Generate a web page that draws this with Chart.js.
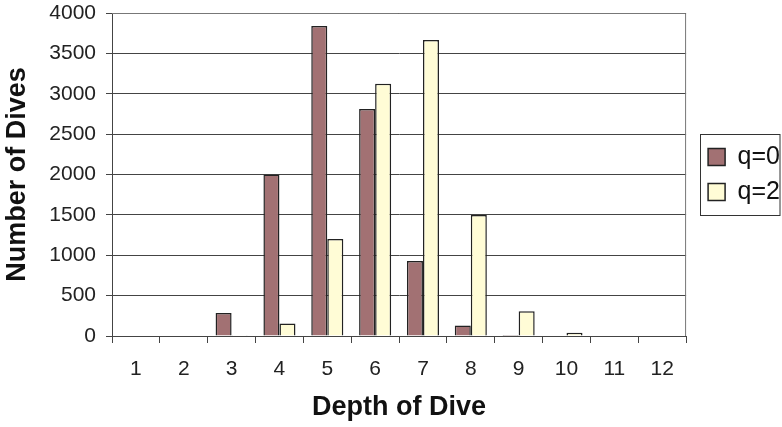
<!DOCTYPE html>
<html>
<head>
<meta charset="utf-8">
<script src="https://cdn.jsdelivr.net/npm/chart.js"></script>
<style>
  body { margin: 0; background: #fff; }
  #wrap { width: 782px; height: 427px; }
</style>
</head>
<body>
<div id="wrap"><canvas id="myChart" width="782" height="427"></canvas></div>
<script>
const depths = ["1", "2", "3", "4", "5", "6", "7", "8", "9", "10", "11", "12"];
const diveQ0 = [0, 0, 285, 2000, 3840, 2810, 930, 130, 12, 0, 0, 0];
const diveQ2 = [0, 0, 10, 155, 1200, 3125, 3665, 1500, 305, 40, 5, 0];

const fnt = "Liberation Sans, Arial, sans-serif";

// frame round the plot and the legend
const frames = {
  id: "frames",
  afterLayout(chart) {
    // legend sits a bit further right in the original
    chart.legend.left += 12;
    chart.legend.right += 12;
  },
  afterDraw(chart) {
    const c = chart.ctx;
    const a = chart.chartArea;
    c.save();
    c.strokeStyle = "#777";
    c.lineWidth = 1;
    c.beginPath();
    c.moveTo(a.left, a.top + 0.5);
    c.lineTo(a.right - 0.5, a.top + 0.5);
    c.lineTo(a.right - 0.5, a.bottom);
    c.stroke();
    const hb = chart.legend.legendHitBoxes;
    if (hb && hb.length) {
      const first = hb[0];
      const last = hb[hb.length - 1];
      const x = Math.round(first.left) - 7.5;
      const y = Math.round(first.top) - 10.5;
      const y2 = Math.round(last.top + last.height) + 10.5;
      c.strokeStyle = "#333";
      c.strokeRect(x, y, 780 - x, y2 - y);
    }
    c.restore();
  }
};

const ctx = document.getElementById("myChart");
const myChart = new Chart(ctx, {
  type: "bar",
  data: {
    labels: depths,
    datasets: [
      {
        label: "q=0",
        data: diveQ0,
        backgroundColor: "#A27173",
        borderColor: "#222",
        borderWidth: 1.5,
        borderSkipped: "bottom",
      },
      {
        label: "q=2",
        data: diveQ2,
        backgroundColor: "#FFFCD6",
        borderColor: "#222",
        borderWidth: 1.5,
        borderSkipped: "bottom",
      },
    ],
  },
  options: {
    responsive: false,
    animation: false,
    layout: { padding: { top: 13, right: 4, left: 0, bottom: 0 } },
    datasets: {
      bar: { categoryPercentage: 0.67, barPercentage: 1.0 },
    },
    scales: {
      x: {
        afterFit: (scale) => { scale.height = 91; },
        grid: {
          drawOnChartArea: false,
          drawTicks: true,
          tickLength: 7,
          color: "#444",
        },
        border: { color: "#444", width: 1 },
        ticks: {
          color: "#222",
          padding: 14,
          font: { family: fnt, size: 21 },
        },
        title: {
          display: true,
          text: "Depth of Dive",
          color: "#111",
          padding: { top: 0, bottom: 3 },
          font: { family: fnt, size: 27, weight: "bold" },
        },
      },
      y: {
        min: 0,
        max: 4000,
        afterFit: (scale) => {
          scale.width = 112;
          scale.paddingTop = 0;
          scale.paddingBottom = 0;
        },
        ticks: {
          stepSize: 500,
          color: "#222",
          padding: 10,
          font: { family: fnt, size: 21 },
          callback: (v) => String(v),
        },
        grid: {
          color: "#444",
          tickLength: 6,
        },
        border: { color: "#444", width: 1 },
        title: {
          display: true,
          text: "Number of Dives",
          color: "#111",
          padding: { top: 1, bottom: 0 },
          font: { family: fnt, size: 27, weight: "bold" },
        },
      },
    },
    plugins: {
      tooltip: { enabled: false },
      legend: {
        position: "right",
        fullSize: false,
        labels: {
          boxWidth: 17,
          boxHeight: 17,
          padding: 10,
          color: "#111",
          font: { family: fnt, size: 25 },
        },
      },
    },
  },
  plugins: [frames],
});
</script>
</body>
</html>
